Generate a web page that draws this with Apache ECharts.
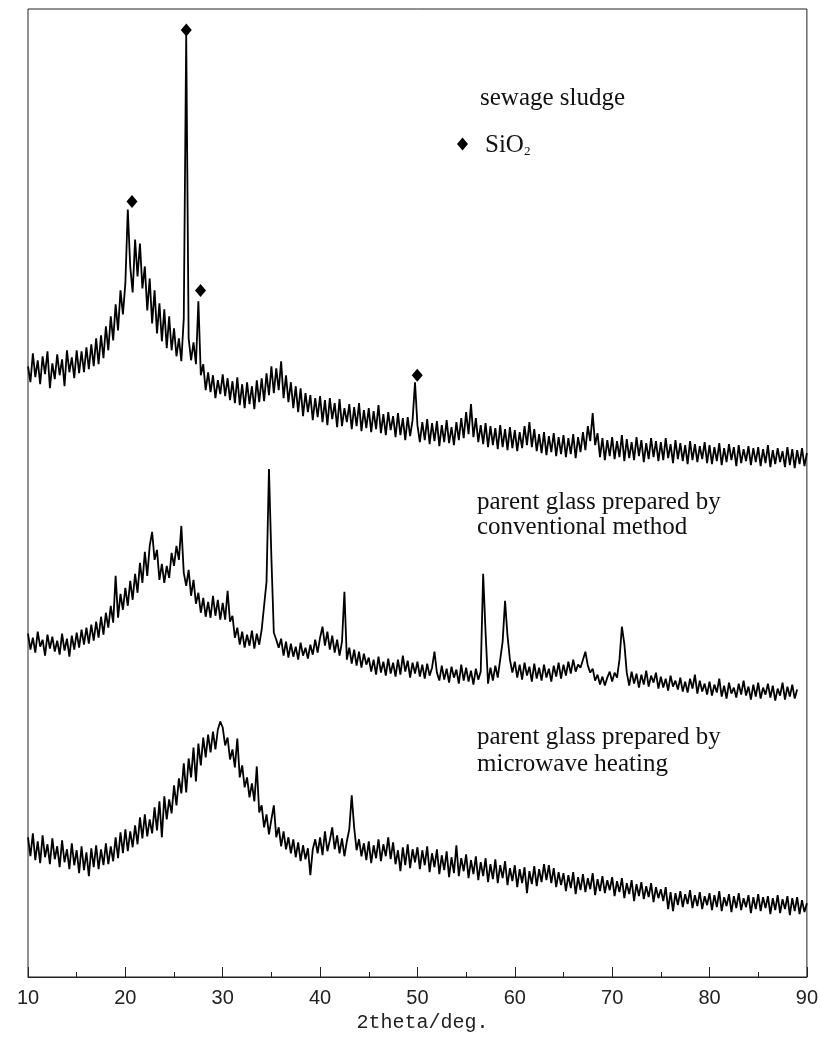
<!DOCTYPE html>
<html lang="en">

<head>
  <meta charset="UTF-8">
  <title>XRD patterns</title>
  <style>
    body {
      margin: 0;
      background: #fff;
    }

    #root {
      width: 821px;
      height: 1038px;
    }
  </style>
</head>

<body>
  <div id="root"></div>
</body>
<script src="https://cdn.jsdelivr.net/npm/echarts@6.0.0/dist/echarts.min.js"></script>
<script>
  // 2theta sampled from 10 deg in 0.25 deg steps, intensity in arbitrary units
  const start = 10
  const step = 0.25

  const sludge = [
    612, 596, 625, 601, 618, 594, 622, 604, 627, 590, 615, 599, 624, 603, 619, 592, 628, 606, 621, 600,
    628, 605, 627, 606, 631, 609, 634, 612, 640, 614, 643, 620, 652, 628, 662, 638, 674, 648, 688, 664,
    695, 769, 712, 686, 739, 702, 735, 690, 712, 668, 700, 655, 688, 645, 675, 637, 669, 630, 662, 628,
    650, 622, 640, 617, 660, 944, 640, 618, 636, 614, 677, 603, 614, 588, 606, 586, 603, 580, 598, 584,
    604, 582, 600, 578, 597, 575, 601, 573, 594, 570, 596, 574, 592, 569, 598, 576, 600, 577, 605, 583,
    612, 585, 610, 588, 617, 580, 603, 576, 596, 570, 592, 566, 590, 562, 585, 566, 583, 558, 580, 561,
    582, 556, 578, 553, 580, 559, 575, 551, 579, 552, 570, 556, 574, 549, 571, 552, 575, 547, 568, 550,
    570, 546, 567, 549, 573, 545, 564, 543, 566, 548, 562, 541, 565, 543, 560, 538, 561, 542, 558, 596,
    553, 536, 556, 538, 559, 534, 555, 537, 557, 532, 553, 536, 558, 535, 551, 533, 556, 538, 560, 540,
    566, 544, 574, 541, 560, 536, 553, 534, 555, 531, 552, 533, 550, 529, 553, 531, 549, 528, 551, 530,
    548, 527, 546, 530, 552, 533, 556, 531, 549, 527, 544, 525, 546, 523, 542, 526, 545, 522, 541, 524,
    543, 521, 540, 524, 544, 520, 541, 526, 546, 528, 552, 537, 565, 533, 545, 521, 540, 518, 538, 522,
    541, 519, 537, 521, 543, 517, 539, 520, 536, 518, 541, 522, 538, 516, 535, 519, 540, 521, 537, 517,
    536, 518, 540, 520, 534, 515, 538, 519, 535, 517, 533, 514, 537, 518, 534, 516, 532, 519, 536, 515,
    533, 514, 531, 517, 535, 513, 530, 516, 534, 518, 531, 512, 533, 515, 529, 517, 532, 513, 530, 516,
    531, 512, 529, 515, 533, 511, 528, 514, 530, 516, 527, 511, 531, 513, 529, 510, 528, 514, 530, 512, 525
  ]

  const conventional = [
    344, 328, 340, 325, 346, 331, 338, 322, 343, 329, 341, 326, 337, 323, 344, 327, 339, 321, 342, 328,
    345, 330, 348, 333, 350, 334, 353, 337, 356, 340, 361, 343, 365, 350, 372, 355, 402, 360, 384, 368,
    390, 372, 397, 378, 404, 385, 415, 395, 426, 402, 432, 446, 418, 428, 398, 414, 395, 412, 400, 425,
    412, 432, 418, 452, 405, 392, 408, 382, 398, 374, 385, 365, 380, 361, 376, 360, 382, 362, 378, 358,
    375, 358, 387, 356, 362, 340, 350, 333, 346, 330, 343, 332, 347, 329, 344, 333, 348, 372, 396, 509,
    420, 345, 338, 330, 339, 322, 336, 320, 334, 321, 331, 318, 335, 322, 330, 319, 333, 323, 338, 325,
    340, 351, 332, 346, 328, 342, 325, 338, 322, 336, 386, 318, 330, 314, 328, 312, 326, 310, 324, 313,
    320, 306, 318, 303, 321, 305, 316, 302, 319, 304, 315, 301, 318, 303, 322, 306, 317, 300, 315, 304,
    316, 301, 313, 299, 314, 302, 310, 326, 305, 297, 312, 298, 309, 295, 311, 300, 308, 294, 313, 297,
    310, 296, 307, 293, 309, 298, 306, 404, 345, 294, 310, 297, 312, 300, 318, 336, 377, 342, 318, 305,
    316, 300, 313, 298, 315, 302, 311, 296, 314, 299, 310, 297, 313, 300, 309, 296, 312, 301, 315, 299,
    313, 302, 316, 304, 318, 306, 313, 310, 318, 326, 312, 305, 309, 297, 303, 293, 301, 292, 300, 306,
    296, 305, 300, 318, 351, 334, 305, 292, 306, 294, 304, 290, 303, 293, 307, 291, 302, 295, 305, 289,
    301, 290, 299, 287, 302, 291, 297, 288, 300, 286, 296, 285, 299, 289, 303, 284, 297, 286, 294, 283,
    296, 282, 293, 285, 299, 281, 292, 279, 295, 284, 290, 280, 294, 283, 297, 282, 291, 278, 293, 281,
    295, 279, 290, 283, 294, 280, 292, 277, 289, 282, 295, 278, 291, 281, 293, 279, 288
  ]

  const microwave = [
    140, 121, 144, 117, 136, 114, 142, 120, 133, 113, 139, 118, 131, 110, 137, 115, 128, 108, 134, 112,
    127, 104, 131, 107, 125, 101, 129, 110, 132, 108, 128, 112, 134, 113, 131, 116, 140, 119, 145, 124,
    148, 126, 146, 130, 152, 133, 160, 139, 163, 141, 158, 144, 170, 147, 176, 140, 181, 158, 178, 164,
    192, 172, 199, 184, 214, 185, 219, 200, 230, 196, 234, 212, 240, 220, 243, 225, 246, 228, 248, 256,
    250, 232, 240, 218, 228, 210, 239, 200, 212, 190, 200, 180, 194, 176, 211, 165, 172, 150, 163, 143,
    158, 172, 140, 150, 131, 146, 128, 140, 124, 138, 120, 135, 116, 132, 118, 129, 102, 128, 138, 124,
    140, 122, 146, 126, 137, 150, 128, 142, 124, 139, 121, 136, 148, 182, 150, 127, 138, 121, 134, 117,
    136, 114, 132, 119, 138, 116, 133, 121, 140, 118, 135, 113, 127, 106, 130, 112, 133, 109, 128, 115,
    130, 108, 127, 112, 131, 105, 124, 110, 128, 103, 122, 107, 126, 100, 120, 104, 132, 101, 119, 106,
    123, 99, 117, 103, 121, 97, 115, 101, 119, 95, 113, 98, 118, 94, 112, 99, 116, 92, 109, 96,
    112, 90, 108, 94, 110, 84, 106, 93, 111, 91, 108, 95, 113, 97, 112, 94, 109, 90, 105, 92,
    104, 86, 102, 89, 105, 83, 100, 87, 103, 85, 99, 88, 104, 82, 98, 86, 101, 84, 97, 87,
    100, 81, 96, 85, 99, 79, 94, 83, 97, 76, 93, 81, 95, 78, 91, 80, 94, 75, 90, 79,
    88, 76, 90, 68, 85, 66, 84, 72, 86, 70, 83, 73, 87, 69, 82, 71, 85, 68, 81, 72,
    84, 67, 82, 70, 86, 66, 80, 71, 83, 65, 81, 69, 84, 67, 79, 70, 82, 64, 80, 68,
    83, 66, 80, 69, 81, 63, 79, 67, 82, 64, 78, 68, 81, 62, 79, 66, 80, 63, 77, 65, 74
  ]

  // SiO2 reflections marked on the sewage sludge pattern
  const sio2Peaks = [[20.68, 777], [26.26, 949], [27.72, 688], [49.98, 603]]

  const serif = '"Liberation Serif", "Times New Roman", serif'
  const ink = '#000'

  function toPairs(arr) {
    return arr.map((v, i) => [start + i * step, v])
  }

  function trace(name, arr) {
    return {
      name: name,
      type: 'line',
      data: toPairs(arr),
      showSymbol: false,
      sampling: null,
      lineStyle: { color: ink, width: 1.8 },
      silent: true
    }
  }

  function note(text, left, top) {
    return {
      type: 'text',
      left: left,
      top: top,
      style: { text: text, font: '25px ' + serif, fill: '#111' }
    }
  }

  let myChart = echarts.init(document.getElementById('root'))

  let option = {
    animation: false,
    backgroundColor: '#fff',
    grid: {
      left: 28,
      top: 9,
      width: 781,
      height: 970,
      show: true,
      borderColor: '#222',
      borderWidth: 1
    },
    legend: {
      left: 452,
      top: 128,
      itemWidth: 11,
      itemHeight: 13,
      selectedMode: false,
      data: [{ name: 'SiO2', icon: 'diamond' }],
      formatter: () => '{a|SiO}{b|2}',
      textStyle: {
        rich: {
          a: { fontFamily: serif, fontSize: 25, color: '#111', padding: [0, 0, 0, 12], verticalAlign: 'bottom', lineHeight: 28 },
          b: { fontFamily: serif, fontSize: 13, color: '#111', verticalAlign: 'bottom', lineHeight: 13 }
        }
      }
    },
    xAxis: {
      type: 'value',
      min: 10,
      max: 90,
      interval: 10,
      axisLine: { lineStyle: { color: '#222' } },
      axisTick: { inside: true, length: 10, lineStyle: { color: '#222' } },
      minorTick: { show: true, splitNumber: 2, length: 5, lineStyle: { color: '#222' } },
      splitLine: { show: false },
      axisLabel: { fontFamily: '"Liberation Sans", Arial', fontSize: 20, color: '#222', margin: 11 },
      name: '2theta/deg.',
      nameLocation: 'middle',
      nameGap: 36,
      nameTextStyle: { fontFamily: '"Liberation Mono", monospace', fontSize: 20, color: '#222', padding: [0, 0, 0, 10] }
    },
    yAxis: {
      type: 'value',
      min: 0,
      max: 970,
      show: false
    },
    graphic: [
      note('sewage sludge', 480, 86),
      note('parent glass prepared by', 477, 490),
      note('conventional method', 477, 515),
      note('parent glass prepared by', 477, 725),
      note('microwave heating', 477, 752)
    ],
    series: [
      trace('sewage sludge', sludge),
      trace('conventional', conventional),
      trace('microwave', microwave),
      {
        name: 'SiO2',
        type: 'scatter',
        data: sio2Peaks,
        symbol: 'diamond',
        symbolSize: [11, 13],
        itemStyle: { color: ink, opacity: 1 },
        silent: true
      }
    ]
  }

  myChart.setOption(option)
</script>

</html>
